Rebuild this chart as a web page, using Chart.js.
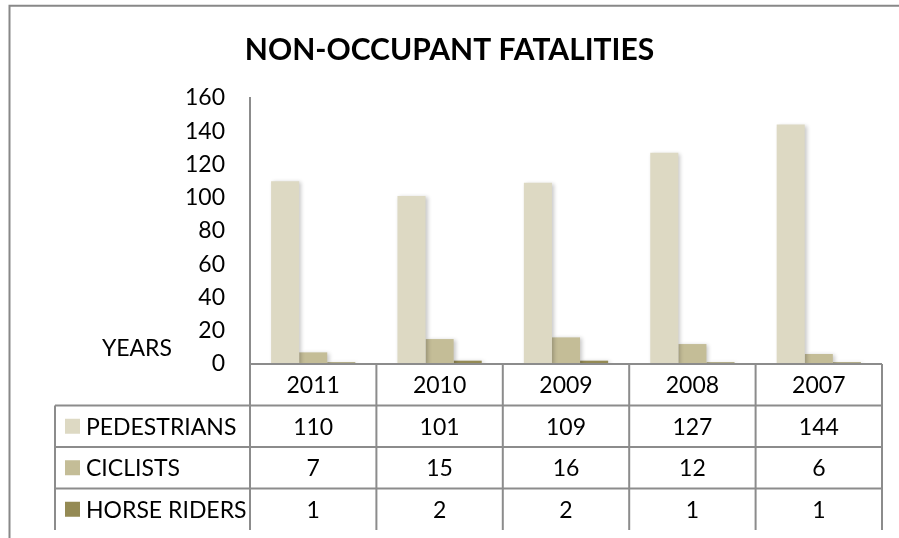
<!DOCTYPE html>
<html>
<head>
<meta charset="utf-8">
<script src="https://cdn.jsdelivr.net/npm/chart.js@4.4.1/dist/chart.umd.min.js"></script>
<style>
  html, body { margin: 0; padding: 0; background: #ffffff; }
  #wrap { width: 899px; height: 538px; position: relative; }
</style>
</head>
<body>
<div id="wrap"><canvas id="c" width="899" height="538"></canvas></div>
<script>
const titleText = 'NON-OCCUPANT FATALITIES';
const axisLabel = 'YEARS';
const years = ['2011', '2010', '2009', '2008', '2007'];
const seriesNames = ['PEDESTRIANS', 'CICLISTS', 'HORSE RIDERS'];
const pedestrians = [110, 101, 109, 127, 144];
const ciclists = [7, 15, 16, 12, 6];
const horseRiders = [1, 2, 2, 1, 1];
const seriesColors = ['#DDD9C3', '#C4BD97', '#948A54'];
const yTicks = [0, 20, 40, 60, 80, 100, 120, 140, 160];

const FONT = 'Lato, "Open Sans", sans-serif';
const LINE = '#8c8c8c';
const TEXT_SIZE = 23;

const shadowPlugin = {
  id: 'barShadow',
  beforeDatasetsDraw(chart) {
    const ctx = chart.ctx;
    ctx.save();
    ctx.shadowColor = 'rgba(0,0,0,0.22)';
    ctx.shadowBlur = 4;
    ctx.shadowOffsetX = 2;
    ctx.shadowOffsetY = 1;
  },
  afterDatasetsDraw(chart) {
    chart.ctx.restore();
  }
};

const tablePlugin = {
  id: 'dataTable',
  afterDraw(chart) {
    const ctx = chart.ctx;
    const area = chart.chartArea;
    const xs = chart.scales.x;
    const n = years.length;
    const colW = (area.right - area.left) / n;
    const rowH = 41.5;
    const top = area.bottom;
    const legendLeft = 55;
    const rows = [pedestrians, ciclists, horseRiders];

    ctx.save();
    // outer chart border
    ctx.strokeStyle = '#888888';
    ctx.lineWidth = 2;
    ctx.beginPath();
    ctx.moveTo(9.5, 600);
    ctx.lineTo(9.5, 5.7);
    ctx.lineTo(950, 5.7);
    ctx.stroke();

    ctx.strokeStyle = LINE;
    ctx.lineWidth = 2;
    ctx.beginPath();
    ctx.moveTo(area.left, top); ctx.lineTo(area.right, top);
    for (let r = 1; r <= 3; r++) {
      const y = top + rowH * r;
      ctx.moveTo(legendLeft, y); ctx.lineTo(area.right, y);
    }
    for (let c = 0; c <= n; c++) {
      const x = area.left + colW * c;
      ctx.moveTo(x, top); ctx.lineTo(x, top + rowH * 4);
    }
    ctx.moveTo(legendLeft, top + rowH); ctx.lineTo(legendLeft, top + rowH * 4);
    ctx.stroke();

    ctx.fillStyle = '#000000';
    ctx.font = TEXT_SIZE + 'px ' + FONT;
    ctx.textBaseline = 'middle';
    ctx.textAlign = 'center';
    for (let c = 0; c < n; c++) {
      const cx = xs.getPixelForValue(c);
      ctx.fillText(years[c], cx, top + rowH * 0.5 + 1);
      for (let r = 0; r < 3; r++) {
        ctx.fillText(String(rows[r][c]), cx, top + rowH * (r + 1.5) + 1);
      }
    }
    ctx.textAlign = 'left';
    for (let r = 0; r < 3; r++) {
      const cy = top + rowH * (r + 1.5);
      ctx.fillStyle = seriesColors[r];
      ctx.fillRect(65, cy - 7.5, 15, 15);
      ctx.fillStyle = '#000000';
      ctx.fillText(seriesNames[r], 86, cy + 1);
    }
    ctx.textAlign = 'right';
    ctx.fillText(axisLabel, 172, top - 15);
    ctx.restore();
  }
};

new Chart(document.getElementById('c'), {
  type: 'bar',
  data: {
    labels: years,
    datasets: [
      { label: seriesNames[0], data: pedestrians, backgroundColor: seriesColors[0] },
      { label: seriesNames[1], data: ciclists, backgroundColor: seriesColors[1] },
      { label: seriesNames[2], data: horseRiders, backgroundColor: seriesColors[2] }
    ]
  },
  options: {
    responsive: false,
    animation: false,
    events: [],
    layout: { padding: { left: 17, right: 17, top: 0, bottom: 174 } },
    datasets: { bar: { categoryPercentage: 3 / 4.5, barPercentage: 1, borderWidth: 0 } },
    plugins: {
      legend: { display: false },
      tooltip: { enabled: false },
      title: {
        display: true,
        text: titleText,
        color: '#000000',
        font: { family: FONT, size: 30, weight: 'bold', lineHeight: 1.2 },
        padding: { top: 32, bottom: 30 }
      }
    },
    scales: {
      x: {
        display: false,
        offset: true,
        grid: { display: false }
      },
      y: {
        min: 0,
        max: 160,
        afterFit(scale) { scale.width = 233; },
        afterBuildTicks(scale) { scale.ticks = yTicks.map(v => ({ value: v })); },
        grid: { display: false, drawTicks: false },
        border: { display: true, color: LINE, width: 2 },
        ticks: {
          color: '#000000',
          padding: 25,
          font: { family: FONT, size: TEXT_SIZE }
        }
      }
    }
  },
  plugins: [shadowPlugin, tablePlugin]
});
</script>
</body>
</html>
